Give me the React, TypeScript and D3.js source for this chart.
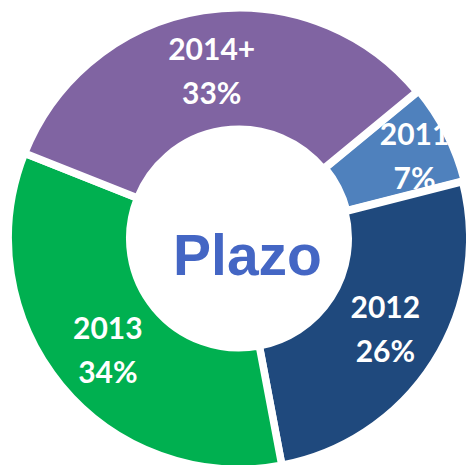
import React from "react";
import * as d3 from "d3";

const categories = ["2011", "2012", "2013", "2014+"];
const values = [7, 26, 34, 33];
const colors = ["#4F81BD", "#1F497D", "#00B050", "#8064A2"];
const explode = [2, 0, 0, 0];
const labelShift: [number, number][] = [[24, -5], [3, 0], [0, 4], [-1, 1]];
const centerTitle = "Plazo";

const W = 466;
const H = 465;
const cx = 239;
const cy = 238.5;
const strokeW = 7.5;
const outerR = 227 + strokeW / 2;
const innerR = 113 - strokeW / 2;
const startDeg = 50.5;

export default function App() {
  const total = d3.sum(values);
  const pie = d3
    .pie<number>()
    .sort(null)
    .value((d) => d)
    .startAngle((startDeg * Math.PI) / 180)
    .endAngle((startDeg * Math.PI) / 180 + 2 * Math.PI);
  const arcs = pie(values);
  const arc = d3.arc<d3.PieArcDatum<number>>().innerRadius(innerR).outerRadius(outerR);
  const labelArc = d3.arc<d3.PieArcDatum<number>>().innerRadius(170).outerRadius(170);
  const fmt = d3.format(".0%");

  return (
    <svg
      width={W}
      height={H}
      style={{ position: "absolute", left: 0, top: 0, background: "#fff" }}
    >
      <g transform={`translate(${cx},${cy})`}>
        {arcs.map((a, i) => {
          const mid = (a.startAngle + a.endAngle) / 2;
          const ox = Math.sin(mid) * explode[i];
          const oy = -Math.cos(mid) * explode[i];
          return (
            <path
              key={categories[i]}
              d={arc(a) || ""}
              transform={`translate(${ox},${oy})`}
              fill={colors[i]}
              stroke="#fff"
              strokeWidth={strokeW}
              strokeLinejoin="miter"
            />
          );
        })}
        {arcs.map((a, i) => {
          const [lx, ly] = labelArc.centroid(a);
          const x = lx + labelShift[i][0];
          const y = ly + labelShift[i][1];
          return (
            <text
              key={"l" + categories[i]}
              x={x}
              y={y}
              textAnchor="middle"
              fill="#fff"
              fontFamily="Lato, 'Open Sans', sans-serif"
              fontWeight="bold"
              fontSize={30}
            >
              <tspan x={x} y={y - 11.5}>{categories[i]}</tspan>
              <tspan x={x} y={y + 32}>{fmt(values[i] / total)}</tspan>
            </text>
          );
        })}
        <text
          x={8.5}
          y={36.5}
          textAnchor="middle"
          fill="#4466C4"
          fontFamily="'Liberation Sans', Arial, sans-serif"
          fontWeight="bold"
          fontSize={57}
        >
          {centerTitle}
        </text>
      </g>
    </svg>
  );
}
